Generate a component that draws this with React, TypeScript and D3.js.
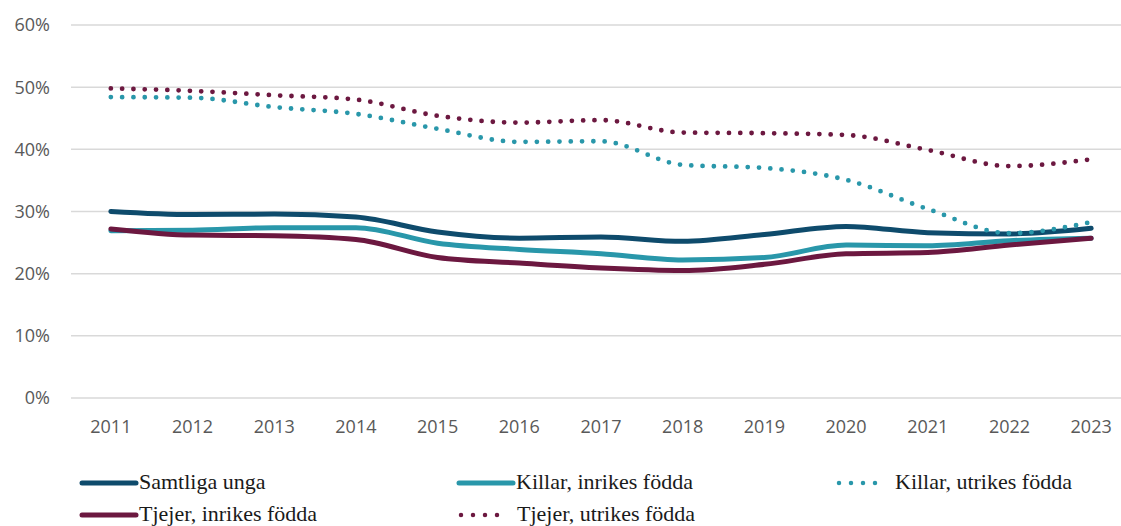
import React from "react";
import * as d3 from "d3";

const years = ["2011","2012","2013","2014","2015","2016","2017","2018","2019","2020","2021","2022","2023"];
const samtliga = [30.0, 29.5, 29.6, 29.1, 26.7, 25.7, 25.9, 25.2, 26.3, 27.6, 26.6, 26.4, 27.3];
const killarInrikes = [26.9, 27.0, 27.4, 27.4, 24.9, 23.9, 23.2, 22.2, 22.6, 24.6, 24.5, 25.3, 25.7];
const killarUtrikes = [48.4, 48.3, 46.8, 45.7, 43.3, 41.2, 41.3, 37.5, 37.0, 35.1, 30.4, 26.5, 28.3];
const tjejerInrikes = [27.2, 26.2, 26.1, 25.5, 22.6, 21.7, 20.9, 20.5, 21.5, 23.2, 23.4, 24.6, 25.7];
const tjejerUtrikes = [49.8, 49.4, 48.7, 48.0, 45.4, 44.3, 44.7, 42.7, 42.6, 42.3, 39.9, 37.3, 38.4];
const yTicks = [0, 10, 20, 30, 40, 50, 60];

const NAVY = "#0e4b6c";
const TEAL = "#2997aa";
const MAROON = "#6c1840";

const series = [
  { name: "Samtliga unga", values: samtliga, color: NAVY, dotted: false },
  { name: "Killar, inrikes födda", values: killarInrikes, color: TEAL, dotted: false },
  { name: "Killar, utrikes födda", values: killarUtrikes, color: TEAL, dotted: true },
  { name: "Tjejer, inrikes födda", values: tjejerInrikes, color: MAROON, dotted: false },
  { name: "Tjejer, utrikes födda", values: tjejerUtrikes, color: MAROON, dotted: true },
];

const legendPos = [
  { x: 82, y: 483 },
  { x: 459, y: 483 },
  { x: 837, y: 483 },
  { x: 82, y: 515 },
  { x: 459, y: 515 },
];

export default function App() {
  const W = 1121, H = 526;
  const x = d3.scalePoint<string>().domain(years).range([70, 1132]).padding(0.5);
  const y = d3.scaleLinear().domain([0, 60]).range([398, 25]);
  const line = d3.line<number>()
    .x((_, i) => x(years[i]) as number)
    .y((d) => y(d))
    .curve(d3.curveMonotoneX);

  return (
    <svg width={W} height={H} style={{ position: "absolute", left: 0, top: 0, background: "#fff" }}>
      {yTicks.map((t) => (
        <g key={t}>
          <line x1={71} x2={W} y1={y(t)} y2={y(t)} stroke="#d9d9d9" strokeWidth={1.5} />
          <text x={50} y={y(t)} dy="0.36em" textAnchor="end" fontFamily="'Open Sans', sans-serif" fontSize={18} fill="#595959">
            {t}%
          </text>
        </g>
      ))}
      {years.map((yr) => (
        <text key={yr} x={x(yr)} y={433} textAnchor="middle" fontFamily="'Open Sans', sans-serif" fontSize={18} fill="#595959">
          {yr}
        </text>
      ))}
      {series.map((s) => (
        <path
          key={s.name}
          d={line(s.values) || ""}
          fill="none"
          stroke={s.color}
          strokeWidth={s.dotted ? 4.8 : 5}
          strokeLinecap="round"
          strokeLinejoin="round"
          strokeDasharray={s.dotted ? "0 11.3" : undefined}
        />
      ))}
      {series.map((s, i) => {
        const p = legendPos[i];
        return (
          <g key={s.name} transform={`translate(${p.x},${p.y})`}>
            {s.dotted ? (
              <line x1={2} x2={50} y1={0} y2={0} stroke={s.color} strokeWidth={4.5} strokeLinecap="round" strokeDasharray="0 12" />
            ) : (
              <line x1={0} x2={54} y1={0} y2={0} stroke={s.color} strokeWidth={5} strokeLinecap="round" />
            )}
            <text x={s.dotted ? 58 : 57} y={0} dy="0.25em" fontFamily="'Liberation Serif', serif" fontSize={22} fill="#1a1a1a">
              {s.name}
            </text>
          </g>
        );
      })}
    </svg>
  );
}
